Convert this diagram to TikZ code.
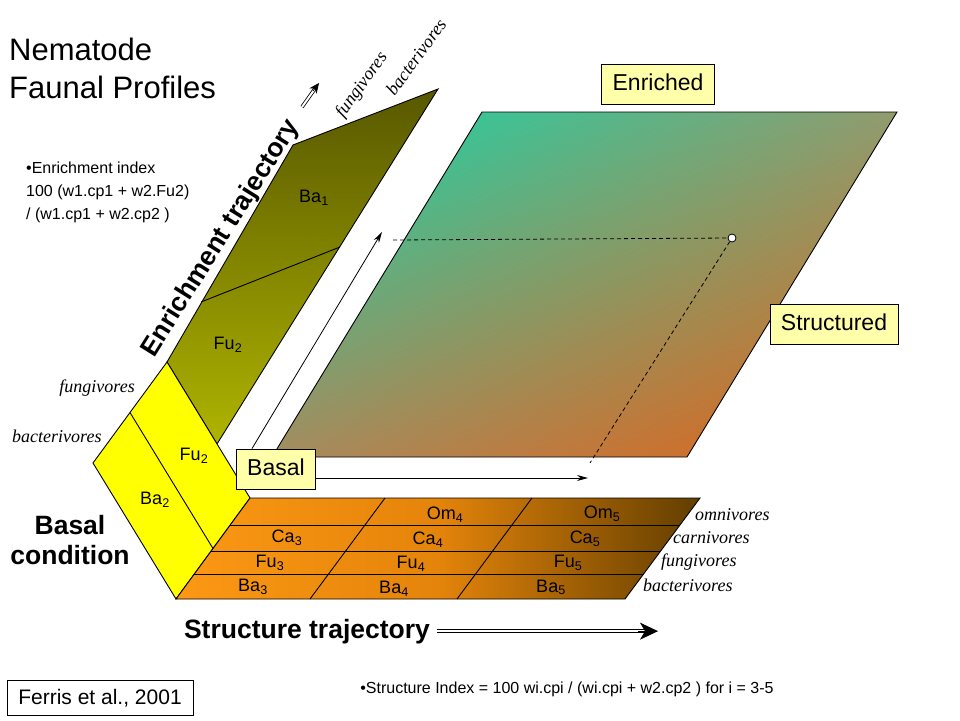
\documentclass[tikz,border=0pt]{standalone}
\usepackage{fontspec}
\setmainfont{Liberation Sans}
\newfontfamily\guildfont{Liberation Serif}
\usepackage{tikz}
\usetikzlibrary{arrows.meta,positioning,shadings}
\definecolor{tagfill}{RGB}{255,255,170}
\definecolor{olivetop}{RGB}{88,88,0}
\definecolor{olivebot}{RGB}{175,180,0}
\definecolor{basalyellow}{RGB}{255,255,0}
\definecolor{orangeleft}{RGB}{252,152,20}
\definecolor{orangemid}{RGB}{228,132,10}
\definecolor{orangeright}{RGB}{98,62,0}
\definecolor{tealcorner}{RGB}{17,215,170}
\definecolor{greycorner}{RGB}{145,155,110}
\definecolor{tancorner}{RGB}{165,140,95}
\definecolor{rustcorner}{RGB}{225,98,20}

\begin{document}
\begin{tikzpicture}[x=1pt,y=-1pt,node distance=24.5pt and 17pt,on grid,
  plate/.style={draw=black,line width=0.9pt},
  tag/.style={draw=black,line width=0.9pt,fill=tagfill,inner xsep=11pt,inner ysep=9pt,text height=17pt,text depth=5pt,font=\fontsize{23}{26}\selectfont},
  cell/.style={font=\fontsize{18}{20}\selectfont},
  guild/.style={inner sep=0pt,font=\guildfont\itshape\fontsize{18}{20}\selectfont},
  heading/.style={font=\bfseries\fontsize{26.5}{30}\selectfont},
  note/.style={inner sep=0pt,font=\fontsize{16}{23}\selectfont}]
\useasboundingbox (0,0) rectangle (960,720);

\shade[plate,top color=olivetop,bottom color=olivebot] (167,362) -- (293,145) -- (438,89) -- (217,444) -- cycle;
\draw[plate] (201,302) -- (340,247);
\filldraw[plate,fill=basalyellow] (93,463) -- (176,599) -- (250,498) -- (167,362) -- cycle;
\draw[plate] (130,412.5) -- (213,548.5);
\shade[plate,shading=bilinear interpolation,upper left=tealcorner,upper right=greycorner,lower left=tancorner,lower right=rustcorner] (482,112) -- (897,112) -- (687,457) -- (272,457) -- cycle;
\shade[plate,left color=orangeleft,right color=orangeright,middle color=orangemid] (176,599) -- (625,599) -- (700,498) -- (250,498) -- cycle;
\foreach \y in {525,551,574}
  \draw[plate] ({176+(599-\y)*0.733},\y) -- ({625+(599-\y)*0.733},\y);
\draw[plate] (310,599) -- (385,498) (457,599) -- (532,498);

\node[anchor=base west,inner sep=0pt,font=\fontsize{31}{38}\selectfont] (nematode) at (9,60) {Nematode};
\node[anchor=base west,inner sep=0pt,font=\fontsize{31}{38}\selectfont] (profiles) [below=38pt of nematode.base west,anchor=base west] {Faunal Profiles};
\node[note,anchor=north west,align=left] (eindex) at (26,161.5) {\textbullet Enrichment index\\100 (w1.cp1 + w2.Fu2)\\/ (w1.cp1 + w2.cp2 )};
\node[note,anchor=base] (sindex) at (567,693) {\textbullet Structure Index = 100 wi.cpi / (wi.cpi + w2.cp2 ) for i = 3-5};
\node[draw,line width=0.9pt,minimum width=186pt,minimum height=35pt,font=\fontsize{21}{24}\selectfont] (ferris) at (100,698) {Ferris et al., 2001};

\node[heading,anchor=base,rotate=58] (enrtraj) at (227,242) {Enrichment trajectory};
\node[heading,anchor=base] (strtraj) at (307,638) {Structure trajectory};
\node[heading,align=center,anchor=north] (basalcond) at (70,512) {Basal\\condition};

\node[guild,rotate=54] (fungitop) at (362,85) {fungivores};
\node[guild,rotate=54] (bactitop) at (416,57) {bacterivores};
\node[guild,anchor=base east] (fungileft) at (135,392) {fungivores};
\node[guild,anchor=base west] (bactileft) at (12,442) {bacterivores};
\node[guild,anchor=base west] (omni) at (695,520) {omnivores};
\node[guild,anchor=base west] (carni) at (673,543) {carnivores};
\node[guild,anchor=base west] (fungi) at (661,566) {fungivores};
\node[guild,anchor=base west] (bacti) at (643,591) {bacterivores};

\node[cell] (ba1) at (314,198) {Ba\textsubscript{1}};
\node[cell] (fu2) at (228,345) {Fu\textsubscript{2}};
\node[cell] (fu2b) at (194,456) {Fu\textsubscript{2}};
\node[cell] (ba2) at (155,500) {Ba\textsubscript{2}};
\node[cell] (om4) at (445,515) {Om\textsubscript{4}};
\node[cell] (om5) at (602,514) {Om\textsubscript{5}};
\node[cell] (ca3) at (287,538) {Ca\textsubscript{3}};
\node[cell] (ca4) [below left=of om4] {Ca\textsubscript{4}};
\node[cell] (ca5) [below left=of om5] {Ca\textsubscript{5}};
\node[cell] (fu3) [below left=of ca3] {Fu\textsubscript{3}};
\node[cell] (fu4) [below left=of ca4] {Fu\textsubscript{4}};
\node[cell] (fu5) [below left=of ca5] {Fu\textsubscript{5}};
\node[cell] (ba3) [below left=of fu3] {Ba\textsubscript{3}};
\node[cell] (ba4) [below left=of fu4] {Ba\textsubscript{4}};
\node[cell] (ba5) [below left=of fu5] {Ba\textsubscript{5}};

\node[tag] (enriched) at (658,84) {Enriched};
\node[tag] (structured) at (834,324) {Structured};
\node[tag] (basal) at (276,469) {Basal};
\node[circle,draw,fill=white,inner sep=0pt,minimum size=8pt,line width=0.8pt] (site) at (732,238) {};

\coordinate (etip) at (382,232);
\coordinate (stip) at (588,478);
\coordinate (eaxis) at (393,240);
\coordinate (saxis) at (590,463);
\coordinate (strtip) at (strtraj.east -| 658,0);
\coordinate (twintail) at (302,107);
\coordinate (twinneck) at (313,91);
\coordinate (twintip) at (319,83);

\tikzset{track/.style={-{Stealth[length=11pt,width=6pt]},line width=0.8pt},
  twin/.style={double,double distance=2.6pt,line width=0.8pt},
  twinhead/.style={-{Stealth[length=18pt,width=17pt,inset=5pt]},line width=0.8pt}}
\path ([xshift=-24pt]basal.north) edge [track] (etip)
      ([yshift=-9pt]basal.east) edge [track] (stip);
\draw[dash pattern=on 4pt off 3pt,line width=0.8pt] (eaxis) -- (site) -- (saxis);
\draw[twin,shorten >=12pt] ([xshift=3pt]strtraj.east) -- (strtip);
\draw[twinhead] ([xshift=-20pt]strtip) -- (strtip);
\draw[twin,double distance=2pt,shorten >=6pt] (twintail) -- (twintip);
\draw[twinhead,-{Stealth[length=10pt,width=9pt,inset=3pt]}] (twinneck) -- (twintip);
\end{tikzpicture}
\end{document}
